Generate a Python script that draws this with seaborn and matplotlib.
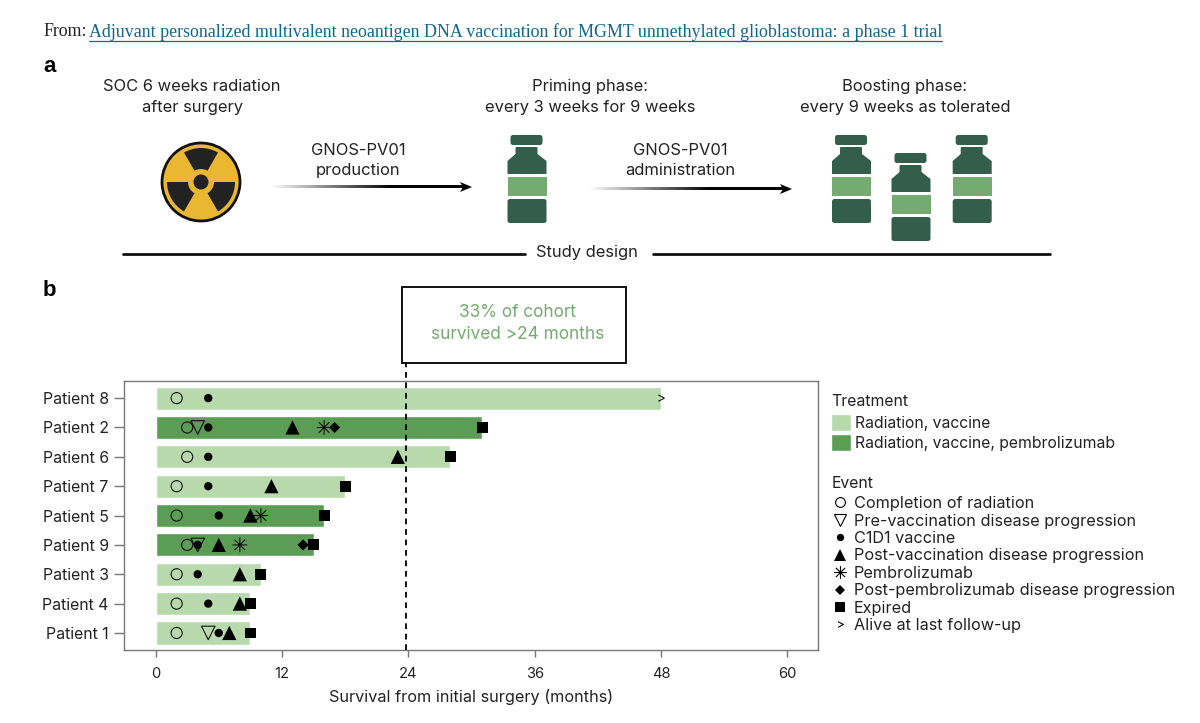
import numpy as np
import pandas as pd
import matplotlib
matplotlib.use("Agg")
import matplotlib.pyplot as plt
import seaborn as sns
from matplotlib.lines import Line2D
from matplotlib.patches import Circle, FancyBboxPatch, Patch, Polygon, Rectangle, Wedge
from matplotlib.path import Path

# data, months from surgery
patients = ["Patient 8", "Patient 2", "Patient 6", "Patient 7", "Patient 5",
            "Patient 9", "Patient 3", "Patient 4", "Patient 1"]
survival = [48, 31, 28, 18, 16, 15, 10, 9, 9]
treatment_names = ["Radiation, vaccine", "Radiation, vaccine, pembrolizumab"]
treatment = [0, 1, 0, 0, 1, 1, 0, 0, 0]

radiation_done = [2, 3, 3, 2, 2, 3, 2, 2, 2]
pre_vac_patients = ["Patient 2", "Patient 9", "Patient 1"]
pre_vac_months = [4, 4, 5]
c1d1 = [5, 5, 5, 5, 6, 4, 4, 5, 6]
post_vac_patients = ["Patient 2", "Patient 6", "Patient 7", "Patient 5",
                     "Patient 9", "Patient 3", "Patient 4", "Patient 1"]
post_vac_months = [13, 23, 11, 9, 6, 8, 8, 7]
pembro_patients = ["Patient 2", "Patient 5", "Patient 9"]
pembro_months = [16, 10, 8]
post_pembro_patients = ["Patient 2", "Patient 9"]
post_pembro_months = [17, 14]
expired_patients = patients[1:]
expired_months = survival[1:]
alive_patients = ["Patient 8"]
alive_months = [48]

x_ticks = [0, 12, 24, 36, 48, 60]
cutoff = 23.8  # the dashed line sits a little left of the 24 tick

BAR_LIGHT = "#B8D9AC"
BAR_DARK = "#5C9D55"
VIAL_DARK = "#345E4C"
VIAL_LIGHT = "#75AB70"
TEXT = "#222222"
AXIS_GREY = "#777777"

sns.set_theme(style="white")
plt.rcParams["font.family"] = ["Inter", "DejaVu Sans"]

asterisk = Path(
    [(-1, 0), (1, 0), (0, -1), (0, 1), (-.72, -.72), (.72, .72), (-.72, .72), (.72, -.72)],
    [Path.MOVETO, Path.LINETO] * 4)
chevron = Path([(-.6, -.7), (.7, 0), (-.6, .7)], [Path.MOVETO, Path.LINETO, Path.LINETO])

event_styles = [
    ("Completion of radiation", patients, radiation_done, "o", 64, False),
    ("Pre-vaccination disease progression", pre_vac_patients, pre_vac_months, "v", 95, False),
    ("C1D1 vaccine", patients, c1d1, "o", 36, True),
    ("Post-vaccination disease progression", post_vac_patients, post_vac_months, "^", 105, True),
    ("Pembrolizumab", pembro_patients, pembro_months, asterisk, 110, False),
    ("Post-pembrolizumab disease progression", post_pembro_patients, post_pembro_months, "D", 32, True),
    ("Expired", expired_patients, expired_months, "s", 62, True),
    ("Alive at last follow-up", alive_patients, alive_months, chevron, 22, False),
]

fig = plt.figure(figsize=(12, 7.23), dpi=100)

# overlay in pixel coordinates for the schematic in panel a
bg = fig.add_axes([0, 0, 1, 1])
bg.set_xlim(0, 1200)
bg.set_ylim(723, 0)
bg.axis("off")


def vial(dx, dy):
    """one vial, drawn from the top left one"""
    def box(x0, y0, w, h, color, pad=1.5):
        bg.add_patch(FancyBboxPatch((x0 + dx + pad, y0 + dy + pad), w - 2 * pad, h - 2 * pad,
                                    boxstyle=f"round,pad={pad}", fc=color, ec="none"))
    box(835, 135, 32, 10, VIAL_DARK, 2.5)
    box(840, 147, 22, 12, VIAL_DARK, 1)
    bg.add_patch(Polygon([(832 + dx, 161 + dy), (840 + dx, 154 + dy), (862 + dx, 154 + dy),
                          (871 + dx, 161 + dy), (871 + dx, 174 + dy), (832 + dx, 174 + dy)],
                         fc=VIAL_DARK, ec="none"))
    bg.add_patch(Rectangle((832 + dx, 177 + dy), 39, 19, fc=VIAL_LIGHT, ec="none"))
    box(832, 199, 39, 24, VIAL_DARK, 2.5)


def fade_arrow(x0, x1, y):
    fade = np.zeros((1, 256, 4))
    fade[..., 3] = np.clip(np.linspace(0, 1.6, 256), 0, 1)
    bg.imshow(fade, extent=(x0, x1 - 8, y + 1.5, y - 1.5), aspect="auto", interpolation="bilinear", zorder=2)
    bg.add_patch(Polygon([(x1 - 12, y - 5), (x1, y), (x1 - 12, y + 5), (x1 - 9, y)], fc="black", ec="none", zorder=3))


def label(x, y, s, **kw):
    kw.setdefault("fontsize", 11.9)
    kw.setdefault("color", TEXT)
    return bg.text(x, y, s, ha=kw.pop("ha", "center"), va=kw.pop("va", "center"), linespacing=1.45, **kw)


# header line
bg.text(43, 32, "From:", fontsize=12.85, family="Liberation Serif", color=TEXT, va="center")
link = bg.text(89, 32, "Adjuvant personalized multivalent neoantigen DNA vaccination for MGMT "
               "unmethylated glioblastoma: a phase 1 trial",
               fontsize=12.85, family="Liberation Serif", color="#11658F", va="center")
bg.plot([89, 942], [41, 41], color="#11658F", lw=0.9)

label(43, 67, "a", fontsize=16, fontweight="black", color="black", ha="left", family="Liberation Sans")
label(43, 291, "b", fontsize=16, fontweight="black", color="black", ha="left", family="Liberation Sans")

label(192, 97, "SOC 6 weeks radiation\nafter surgery")
label(590, 97, "Priming phase:\nevery 3 weeks for 9 weeks")
label(905, 97, "Boosting phase:\nevery 9 weeks as tolerated")
label(358, 160.5, "GNOS-PV01\nproduction")
label(680, 160.5, "GNOS-PV01\nadministration")
label(587, 252, "Study design")

# radiation sign
bg.add_patch(Circle((201, 182), 39, fc="#E9B732", ec="#111111", lw=2))
for start in (240, 0, 120):
    bg.add_patch(Wedge((201, 182), 34, start, start + 60, width=21, fc="#222222", ec="none"))
bg.add_patch(Circle((201, 182), 7.5, fc="#222222", ec="none"))

vial(-324.5, 0)
vial(0, 0)
vial(59.5, 18)
vial(120.7, 0)
fade_arrow(270, 472, 187)
fade_arrow(588, 792, 189)
bg.plot([123, 525], [254, 254], color="#111111", lw=2)
bg.plot([653, 1050], [254, 254], color="#111111", lw=2)

# callout
bg.add_patch(Rectangle((402, 287), 224, 76, fc="white", ec="#111111", lw=1.4))
label(517.5, 323.5, "33% of cohort\nsurvived >24 months", color=VIAL_LIGHT, fontsize=12.4)

# panel b
ax = fig.add_axes([124 / 1200, 1 - 650 / 723, (818 - 124) / 1200, (650 - 380.5) / 723])
ax.patch.set_alpha(0)

bars = pd.DataFrame({"patient": patients, "survival": survival,
                     "treatment": [treatment_names[t] for t in treatment]})
sns.barplot(data=bars, x="survival", y="patient", hue="treatment", order=patients,
            hue_order=treatment_names, palette=[BAR_LIGHT, BAR_DARK], dodge=False,
            width=0.79, saturation=1, legend=False, ax=ax)

row_of = {p: i for i, p in enumerate(patients)}
event_handles = []
for name, who, months, marker, size, filled in event_styles:
    sub = pd.DataFrame({"row": [row_of[p] for p in who], "month": months})
    if filled:
        sns.scatterplot(data=sub, x="month", y="row", marker=marker, s=size, color="black",
                        edgecolor="none", linewidth=0, zorder=4, clip_on=False, ax=ax)
    else:
        sns.scatterplot(data=sub, x="month", y="row", marker=marker, s=size, facecolor="none",
                        edgecolor="#111111", linewidth=0.8, zorder=4, clip_on=False, ax=ax)
    event_handles.append(Line2D([], [], linestyle="none", marker=marker, markersize=np.sqrt(size) * 0.88,
                                markerfacecolor="black" if filled else "none",
                                markeredgecolor="black", markeredgewidth=0 if filled else 0.8,
                                label=name))

ax.plot([cutoff, cutoff], [0, 1.065], transform=ax.get_xaxis_transform(), color="black",
        lw=1.3, ls=(0, (3.2, 2.6)), clip_on=False, zorder=3)

ax.set_xlim(-3, 62.9)
ax.set_ylim(8.58, -0.6)
ax.set_xticks(x_ticks)
ax.set_xlabel("Survival from initial surgery (months)", fontsize=11.7, color=TEXT, labelpad=6)
ax.set_ylabel("")
ax.tick_params(axis="x", length=5, width=1, color=AXIS_GREY, labelsize=10.6, labelcolor=TEXT, pad=7, bottom=True)
ax.tick_params(axis="y", length=7, width=1, color=AXIS_GREY, labelsize=11.4, labelcolor=TEXT, pad=4, left=True)
for spine in ax.spines.values():
    spine.set_color(AXIS_GREY)
    spine.set_linewidth(1)

treat_handles = [Patch(fc=BAR_LIGHT, label=treatment_names[0]), Patch(fc=BAR_DARK, label=treatment_names[1])]
leg1 = fig.legend(handles=treat_handles, title="Treatment", loc="upper left",
                  bbox_to_anchor=(817 / 1200, 1 - 380 / 723), frameon=False, fontsize=11.3,
                  title_fontsize=11.4, labelspacing=0.22, handlelength=1.25, handleheight=1.25,
                  handletextpad=0.3, alignment="left", labelcolor=TEXT)
leg2 = fig.legend(handles=event_handles, title="Event", loc="upper left",
                  bbox_to_anchor=(817 / 1200, 1 - 461 / 723), frameon=False, fontsize=11.7,
                  title_fontsize=11.4, labelspacing=0.15, handlelength=0.98,
                  handletextpad=0.4, alignment="left", labelcolor=TEXT)
for leg in (leg1, leg2):
    leg.get_title().set_color(TEXT)
leg1._legend_box.sep += 1.0
leg2._legend_box.sep += 2.2

fig.savefig("out.png", dpi=100)
